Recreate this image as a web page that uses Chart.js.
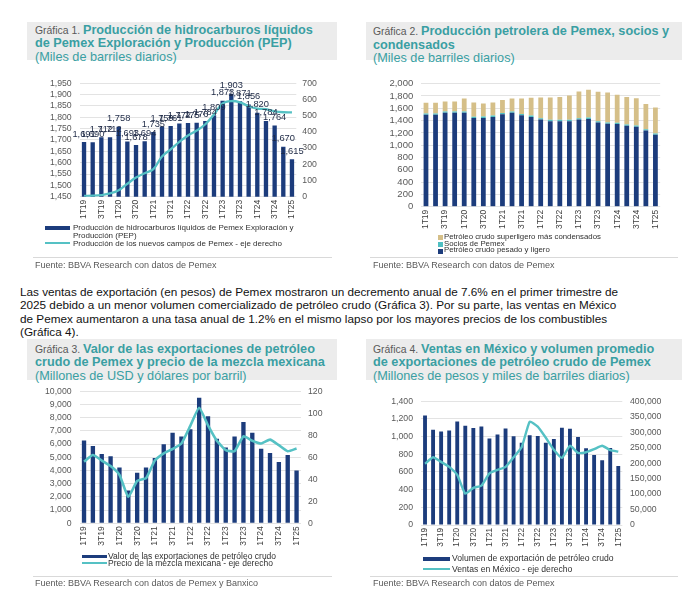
<!DOCTYPE html>
<html>
<head>
<meta charset="utf-8">
<script src="https://cdn.jsdelivr.net/npm/chart.js@4.4.1/dist/chart.umd.min.js"></script>
<style>
    body { margin: 0; width: 700px; height: 600px; position: relative; background: #fff; overflow: hidden;
           font-family: "Liberation Sans", Arial, sans-serif; }
    .hdr { position: absolute; background: #ececec; box-sizing: border-box; line-height: 11.7px; white-space: nowrap; }
    .hdr .g { font-size: 10.4px; color: #595959; }
    .hdr .t { font-size: 12.7px; font-weight: bold; color: #3a9fa3; }
    .hdr .s { font-size: 12.7px; color: #3a9fa3; }
    .box { position: absolute; }
    .sep { position: absolute; height: 1px; background: #d9d9d9; }
    .src { position: absolute; font-size: 9px; line-height: 10px; color: #595959; white-space: nowrap; }
    .lg { position: absolute; white-space: nowrap; color: #303030; }
    .sw { position: absolute; }
    #par { position: absolute; left: 20px; top: 284.8px; font-size: 11.74px; line-height: 13.4px; color: #111; white-space: nowrap; }
</style>
</head>
<body>

<!-- Gráfica 1 -->
<div class="hdr" style="left:27px;top:22px;width:310px;height:38px;padding:0.5px 0 0 8px">
<span class="g">Gráfica 1. </span><span class="t">Producción de hidrocarburos líquidos<br>de Pemex Exploración y Producción (PEP)</span><br><span class="s">(Miles de barriles diarios)</span></div>
<div class="box" style="left:40px;top:70px;width:290px;height:158px"><canvas id="g1"></canvas></div>
<div class="sw" style="left:45px;top:226px;width:25px;height:4px;background:#1c3c7c"></div>
<div class="lg" style="left:73px;top:224px;font-size:8px;line-height:7.5px">Producción de hidrocarburos líquidos de Pemex Exploración y<br>Producción (PEP)</div>
<div class="sw" style="left:45px;top:242px;width:25px;height:2px;background:#55c1c4"></div>
<div class="lg" style="left:73px;top:239.5px;font-size:8px;line-height:7.5px">Producción de los nuevos campos de Pemex - eje derecho</div>
<div class="sep" style="left:33px;top:257px;width:299px"></div>
<div class="src" style="left:35px;top:260px">Fuente: BBVA Research con datos de Pemex</div>

<!-- Gráfica 2 -->
<div class="hdr" style="left:366px;top:22px;width:316px;height:38px;padding:2px 0 0 7px">
<span class="g">Gráfica 2. </span><span class="t">Producción petrolera de Pemex, socios y<br>condensados</span><br><span class="s">(Miles de barriles diarios)</span></div>
<div class="box" style="left:375px;top:70px;width:315px;height:164px"><canvas id="g2"></canvas></div>
<div class="sw" style="left:438px;top:235px;width:5px;height:5px;background:#d5bf88"></div>
<div class="sw" style="left:438px;top:241.5px;width:5px;height:5px;background:#4fbfc2"></div>
<div class="sw" style="left:438px;top:248.5px;width:5px;height:5px;background:#1c3c7c"></div>
<div class="lg" style="left:444px;top:233.9px;font-size:7.8px;line-height:6.8px">Petróleo crudo superligero más condensados<br>Socios de Pemex<br>Petróleo crudo pesado y ligero</div>
<div class="sep" style="left:370px;top:257px;width:308px"></div>
<div class="src" style="left:373px;top:260px">Fuente: BBVA Research con datos de Pemex</div>

<!-- Texto -->
<div id="par">Las ventas de exportación (en pesos) de Pemex mostraron un decremento anual de 7.6% en el primer trimestre de<br>2025 debido a un menor volumen comercializado de petróleo crudo (Gráfica 3). Por su parte, las ventas en México<br>de Pemex aumentaron a una tasa anual de 1.2% en el mismo lapso por los mayores precios de los combustibles<br>(Gráfica 4).</div>

<!-- Gráfica 3 -->
<div class="hdr" style="left:27px;top:339px;width:310px;height:41px;padding:2.5px 0 0 8px">
<span class="g">Gráfica 3. </span><span class="t">Valor de las exportaciones de petróleo<br>crudo de Pemex y precio de la mezcla mexicana</span><br><span class="s">(Millones de USD y dólares por barril)</span></div>
<div class="box" style="left:40px;top:378px;width:295px;height:174px"><canvas id="g3"></canvas></div>
<div class="sw" style="left:82px;top:554.7px;width:25px;height:3.5px;background:#1c3c7c"></div>
<div class="sw" style="left:82px;top:562px;width:25px;height:2px;background:#55c1c4"></div>
<div class="lg" style="left:108px;top:553.3px;font-size:8.5px;line-height:6.8px">Valor de las exportaciones de petróleo crudo<br>Precio de la mezcla mexicana - eje derecho</div>
<div class="sep" style="left:33px;top:576px;width:299px"></div>
<div class="src" style="left:35px;top:577.7px">Fuente: BBVA Research con datos de Pemex y Banxico</div>

<!-- Gráfica 4 -->
<div class="hdr" style="left:366px;top:339px;width:316px;height:41px;padding:2.5px 0 0 7px">
<span class="g">Gráfica 4. </span><span class="t">Ventas en México y volumen promedio<br>de exportaciones de petróleo crudo de Pemex</span><br><span class="s">(Millones de pesos y miles de barriles diarios)</span></div>
<div class="box" style="left:375px;top:388px;width:320px;height:165px"><canvas id="g4"></canvas></div>
<div class="sw" style="left:423px;top:556.5px;width:27px;height:4px;background:#1c3c7c"></div>
<div class="sw" style="left:423px;top:568px;width:27px;height:2px;background:#55c1c4"></div>
<div class="lg" style="left:452px;top:553px;font-size:8.6px;line-height:10.7px">Volumen de exportación de petróleo crudo<br>Ventas en México - eje derecho</div>
<div class="sep" style="left:370px;top:576px;width:308px"></div>
<div class="src" style="left:373px;top:577.7px">Fuente: BBVA Research con datos de Pemex</div>

<script>
// Trimestres del eje x (se muestra uno sí y uno no)
const trimestres = ['1T19','2T19','3T19','4T19','1T20','2T20','3T20','4T20','1T21','2T21','3T21','4T21',
                    '1T22','2T22','3T22','4T22','1T23','2T23','3T23','4T23','1T24','2T24','3T24','4T24','1T25'];

// Gráfica 1: miles de barriles diarios
const produccionPEP = [1691,1690,1712,1712,1758,1693,1678,1694,1735,1759,1761,1772,1775,1776,1784,1809,1873,1903,1871,1856,1820,1784,1764,1670,1615];
const nuevosCampos = [5,6,10,20,40,80,118,145,170,248,292,338,378,408,447,507,575,590,582,558,543,540,527,521,520];

// Gráfica 2: miles de barriles diarios (apilado)
const crudoPesadoLigero = [1497,1497,1528,1528,1528,1444,1444,1460,1502,1528,1486,1460,1417,1390,1390,1390,1417,1428,1370,1348,1343,1316,1300,1237,1170];
const sociosPemex = [18,19,20,20,21,20,21,22,21,22,22,23,22,22,23,22,21,21,20,21,22,21,22,21,20];
const superligeroCondensados = [176,174,164,164,209,229,213,212,212,209,253,289,336,364,371,397,435,454,481,487,455,447,442,412,425];

// Gráfica 3: millones de USD y dólares por barril
const exportacionesUSD = [6270,5860,5250,5070,4220,2480,3830,4220,4950,5980,6850,6570,7130,9510,8100,6400,5740,6570,7670,6850,5640,5320,4640,5170,4000];
const precioMezcla = [56,62,57,52,44,24,38.5,41,57,63.5,67.5,72.5,88.5,105,89,75,66.5,65.5,79,75,72.5,76,71,65.5,68];

// Gráfica 4: miles de barriles diarios y millones de pesos
const volumenExportacion = [1238,1077,1058,1068,1172,1122,1096,1114,978,1025,1092,1005,930,1014,1008,930,973,1101,1088,995,868,792,733,870,668];
const ventasMexico = [198000,219000,204000,188000,162000,101000,120000,127000,167000,178000,188000,219000,251000,334000,318000,282000,243000,217000,256000,233000,235000,245000,256000,242000,237000];

const NAVY = '#1c3c7c';
const TEAL = '#55c1c4';

Chart.defaults.font.family = '"Liberation Sans", Arial, sans-serif';
Chart.defaults.color = '#595959';
Chart.defaults.animation = false;

// Eje x con etiquetas verticales, altura fija
function escalaX(alto, size) {
    return {
        grid: { display: false, drawTicks: false },
        border: { display: false },
        ticks: {
            autoSkip: false, maxRotation: 90, minRotation: 90, padding: 3,
            font: { size: size }, color: '#404040',
            callback: function (v, i) { return i % 2 === 0 ? this.getLabelForValue(v) : ''; }
        },
        afterFit: s => { s.height = alto; }
    };
}

// Eje y con ancho fijo para que el área de trazado quede donde en la imagen
function escalaY(pos, ancho, min, max, paso, size, rejilla, pad) {
    return {
        position: pos, min: min, max: max,
        grid: { display: rejilla, color: '#e3e3e3', drawTicks: false },
        border: { display: false },
        ticks: {
            stepSize: paso, autoSkip: false, padding: pad, font: { size: size }, color: '#595959',
            callback: v => v.toLocaleString('en-US')
        },
        afterFit: s => { s.width = ancho; }
    };
}

function opciones(top, right, scales) {
    return {
        responsive: true,
        maintainAspectRatio: false,
        layout: { padding: { top: top, right: right, left: 0, bottom: 0 } },
        plugins: { legend: { display: false }, tooltip: { enabled: false } },
        scales: scales
    };
}

// Etiquetas de valor encima de las barras (gráfica 1)
const etiquetas = {
    id: 'etiquetas',
    afterDatasetsDraw(chart) {
        const meta = chart.getDatasetMeta(1);
        const c = chart.ctx;
        c.save();
        c.font = '9.3px "Liberation Sans", Arial, sans-serif';
        c.fillStyle = '#1e2a46';
        c.textAlign = 'center';
        c.textBaseline = 'middle';
        meta.data.forEach((bar, i) => {
            c.fillText(produccionPEP[i].toLocaleString('en-US'), bar.x, bar.y - 8);
        });
        c.restore();
    }
};

new Chart(document.getElementById('g1'), {
    data: {
        labels: trimestres,
        datasets: [
            { type: 'line', data: nuevosCampos, yAxisID: 'y2', borderColor: TEAL, borderWidth: 2.3,
              pointRadius: 0, tension: 0.4, order: 0 },
            { type: 'bar', data: produccionPEP, yAxisID: 'y', backgroundColor: NAVY,
              barPercentage: 0.5, categoryPercentage: 1, order: 1 }
        ]
    },
    options: opciones(9.3, 0, {
        x: escalaX(31.3, 8.5),
        y: escalaY('left', 39.7, 1450, 1950, 50, 8.7, true, 8),
        y2: escalaY('right', 33.7, 0, 700, 100, 8.7, false, 6)
    }),
    plugins: [etiquetas]
});

new Chart(document.getElementById('g2'), {
    type: 'bar',
    data: {
        labels: trimestres,
        datasets: [
            { data: crudoPesadoLigero, backgroundColor: NAVY, barPercentage: 0.5, categoryPercentage: 1 },
            { data: sociosPemex, backgroundColor: '#4fbfc2', barPercentage: 0.5, categoryPercentage: 1 },
            { data: superligeroCondensados, backgroundColor: '#d5bf88', barPercentage: 0.5, categoryPercentage: 1 }
        ]
    },
    options: opciones(10, 29.8, {
        x: Object.assign(escalaX(27.3, 8.5), { stacked: true }),
        y: Object.assign(escalaY('left', 46.2, 0, 2000, 200, 9.5, true, 8), { stacked: true })
    })
});

new Chart(document.getElementById('g3'), {
    data: {
        labels: trimestres,
        datasets: [
            { type: 'line', data: precioMezcla, yAxisID: 'y2', borderColor: TEAL, borderWidth: 2.6,
              pointRadius: 0, tension: 0.15, order: 0 },
            { type: 'bar', data: exportacionesUSD, yAxisID: 'y', backgroundColor: NAVY,
              barPercentage: 0.49, categoryPercentage: 1, order: 1 }
        ]
    },
    options: opciones(9.3, 0, {
        x: escalaX(28.7, 8.5),
        y: escalaY('left', 39.6, 0, 10000, 1000, 8.7, true, 8),
        y2: escalaY('right', 34, 0, 120, 20, 8.7, false, 7)
    })
});

new Chart(document.getElementById('g4'), {
    data: {
        labels: trimestres,
        datasets: [
            { type: 'line', data: ventasMexico, yAxisID: 'y2', borderColor: TEAL, borderWidth: 2.4,
              pointRadius: 0, tension: 0.15, order: 0 },
            { type: 'bar', data: volumenExportacion, yAxisID: 'y', backgroundColor: NAVY,
              barPercentage: 0.48, categoryPercentage: 1, order: 1 }
        ]
    },
    options: opciones(9.3, 0, {
        x: escalaX(28, 8.2),
        y: escalaY('left', 46, 0, 1400, 200, 8.7, true, 8),
        y2: escalaY('right', 72.7, 0, 400000, 50000, 8.7, false, 7.7)
    })
});
</script>
</body>
</html>
